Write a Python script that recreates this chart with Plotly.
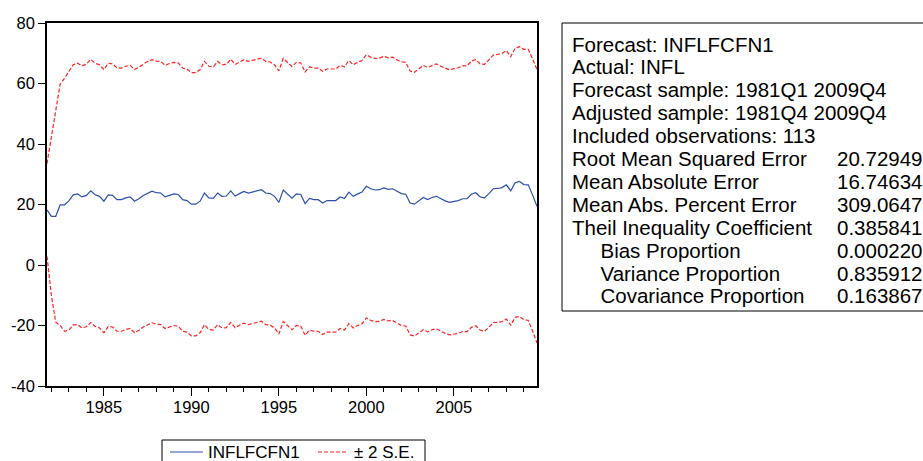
import plotly.graph_objects as go

# Quarterly forecast INFLFCFN1, 1981Q4 .. 2009Q4 (113 observations)
start_year, start_quarter = 1981, 4

forecast = [
    18.2, 16.1, 16.1, 19.9, 19.9, 21.2, 23.2, 23.5, 22.5, 23.0,
    24.5, 23.2, 22.7, 21.1, 23.2, 23.0, 21.6, 21.6, 22.2, 22.5,
    21.1, 21.9, 23.0, 23.8, 24.4, 23.9, 23.8, 22.5, 23.1, 23.5,
    23.3, 21.6, 21.3, 20.1, 20.1, 21.1, 23.8, 22.2, 22.0, 23.8,
    22.7, 22.8, 24.5, 22.8, 23.6, 24.3, 23.8, 24.1, 24.5, 24.9,
    23.8, 23.6, 22.7, 20.7, 24.8, 23.6, 22.1, 23.5, 23.3, 20.3,
    22.0, 21.6, 21.6, 20.5, 21.3, 21.3, 21.3, 22.5, 22.0, 24.1,
    22.7, 23.5, 24.1, 26.0, 25.2, 24.8, 24.9, 25.5, 25.0, 25.2,
    24.3, 23.6, 23.4, 20.5, 20.1, 21.2, 22.3, 21.6, 22.3, 22.7,
    21.9, 21.2, 20.7, 21.0, 21.3, 21.9, 21.9, 23.4, 23.9, 22.5,
    22.2, 23.6, 25.2, 25.3, 25.6, 26.5, 24.5, 27.2, 27.6, 26.6,
    26.5, 23.1, 19.4,
]

# Forecast standard errors
se = [
    7.65, 13.1, 17.5, 19.95, 20.9, 21.35, 21.5, 21.6, 21.65, 21.7,
    21.75, 21.75, 21.75, 21.75, 21.75, 21.75, 21.75, 21.75, 21.75, 21.75,
    21.75, 21.75, 21.75, 21.75, 21.75, 21.75, 21.75, 21.75, 21.75, 21.75,
    21.75, 21.75, 21.75, 21.75, 21.75, 21.75, 21.75, 21.75, 21.75, 21.75,
    21.75, 21.75, 21.75, 21.75, 21.75, 21.75, 21.75, 21.75, 21.75, 21.75,
    21.75, 21.75, 21.75, 21.75, 21.75, 21.75, 21.75, 21.75, 21.75, 21.75,
    21.75, 21.75, 21.75, 21.75, 21.75, 21.75, 21.75, 21.75, 21.75, 21.75,
    21.75, 21.75, 21.75, 21.75, 21.75, 21.75, 21.75, 21.75, 21.75, 21.75,
    21.75, 21.8, 21.8, 21.8, 21.8, 21.85, 21.85, 21.85, 21.85, 21.9,
    21.9, 21.9, 21.9, 21.95, 21.95, 21.95, 21.95, 22.0, 22.0, 22.0,
    22.05, 22.1, 22.1, 22.15, 22.15, 22.2, 22.2, 22.25, 22.3, 22.35,
    22.4, 22.5, 22.6,
]

year_ticks = [1985, 1990, 1995, 2000, 2005]
minor_years = list(range(1982, 2010))
y_ticks = [-40, -20, 0, 20, 40, 60, 80]

IND = "\u00a0" * 5
stat_labels = [
    "Forecast: INFLFCFN1",
    "Actual: INFL",
    "Forecast sample: 1981Q1 2009Q4",
    "Adjusted sample: 1981Q4 2009Q4",
    "Included observations: 113",
    "Root Mean Squared Error",
    "Mean Absolute Error",
    "Mean Abs. Percent Error",
    "Theil Inequality Coefficient",
    IND + "Bias Proportion",
    IND + "Variance Proportion",
    IND + "Covariance Proportion",
]
stat_values = ["", "", "", "", "", "20.72949", "16.74634", "309.0647",
               "0.385841", "0.000220", "0.835912", "0.163867"]

# time axis: quarter positions in decimal years
t = [start_year + (start_quarter - 1) / 4 + i / 4 for i in range(len(forecast))]
upper = [f + 2 * s for f, s in zip(forecast, se)]
lower = [f - 2 * s for f, s in zip(forecast, se)]

W, H = 923, 461
ML, MR, MT, MB = 47, 386, 23, 75
PW, PH = W - ML - MR, H - MT - MB


def paper(x, y):
    return (x - ML) / PW, (H - MB - y) / PH


FONT = "Arial, Liberation Sans, sans-serif"
BLUE = "#2c50ae"
RED = "#ff2222"
DASH = "4px,2px"

fig = go.Figure()
fig.add_trace(go.Scatter(x=t, y=forecast, mode="lines", name="INFLFCFN1",
                         showlegend=False,
                         line=dict(color=BLUE, width=1.2)))
fig.add_trace(go.Scatter(x=t, y=upper, mode="lines", name="\u00b1 2 S.E.",
                         showlegend=False,
                         line=dict(color=RED, width=1.2, dash=DASH)))
fig.add_trace(go.Scatter(x=t, y=lower, mode="lines", name="\u00b1 2 S.E.",
                         showlegend=False,
                         line=dict(color=RED, width=1.2, dash=DASH)))

fig.update_xaxes(
    range=[t[0], t[-1]], tickmode="array", tickvals=year_ticks,
    ticktext=[str(y) for y in year_ticks],
    ticks="outside", ticklen=8, tickwidth=1, tickcolor="black",
    ticklabelstandoff=-3,
    minor=dict(tickmode="array", tickvals=minor_years, ticks="outside",
               ticklen=4, tickwidth=1, tickcolor="black"),
    showgrid=False, zeroline=False,
    showline=True, linecolor="black", linewidth=1.5, mirror=True,
    tickfont=dict(family=FONT, size=16.5, color="black"),
)
fig.update_yaxes(
    range=[-40, 80], tickmode="array", tickvals=y_ticks,
    ticktext=[str(v) for v in y_ticks],
    ticks="outside", ticklen=7, tickwidth=1, tickcolor="black",
    showgrid=False, zeroline=False,
    showline=True, linecolor="black", linewidth=1.5, mirror=True,
    tickfont=dict(family=FONT, size=16.5, color="black"),
)

# statistics box
bx0, by0 = paper(562, 23)
bx1, by1 = paper(935, 311)
shapes = [dict(type="rect", xref="paper", yref="paper", x0=bx0, x1=bx1,
               y0=by1, y1=by0, line=dict(color="black", width=1),
               fillcolor="white", layer="below")]
annotations = []
for i, (lab, val) in enumerate(zip(stat_labels, stat_values)):
    yy = 44 + i * 22.9
    ax, ay = paper(570, yy)
    annotations.append(dict(x=ax, y=ay, xref="paper", yref="paper", text=lab,
                            showarrow=False, xanchor="left", yanchor="middle",
                            font=dict(family=FONT, size=20.5, color="black")))
    if val:
        vx, vy = paper(835, yy)
        annotations.append(dict(x=vx, y=vy, xref="paper", yref="paper", text=val,
                                showarrow=False, xanchor="left", yanchor="middle",
                                font=dict(family=FONT, size=20.5, color="black")))

# legend box below the plot
lg_x0, lg_y0 = paper(162, 440)
lg_x1, lg_y1 = paper(425, 475)
shapes.append(dict(type="rect", xref="paper", yref="paper", x0=lg_x0, x1=lg_x1,
                   y0=lg_y1, y1=lg_y0, line=dict(color="black", width=1),
                   fillcolor="white"))
legend_items = [("INFLFCFN1", BLUE, "solid", 170, 203, 206),
                ("\u00b1 2 S.E.", RED, DASH, 318, 348, 352)]
for name, color, dash, s0, s1, tx in legend_items:
    sx0, sy = paper(s0, 452)
    sx1, _ = paper(s1, 452)
    shapes.append(dict(type="line", xref="paper", yref="paper", x0=sx0, x1=sx1,
                       y0=sy, y1=sy, line=dict(color=color, width=1.2, dash=dash)))
    txx, _ = paper(tx, 452)
    annotations.append(dict(x=txx, y=sy, xref="paper", yref="paper", text=name,
                            showarrow=False, xanchor="left", yanchor="middle",
                            font=dict(family=FONT, size=17, color="black")))

fig.update_layout(
    width=W, height=H,
    margin=dict(l=ML, r=MR, t=MT, b=MB, autoexpand=False),
    paper_bgcolor="white", plot_bgcolor="white",
    shapes=shapes, annotations=annotations,
    showlegend=False,
)

fig.write_html("out.html")
